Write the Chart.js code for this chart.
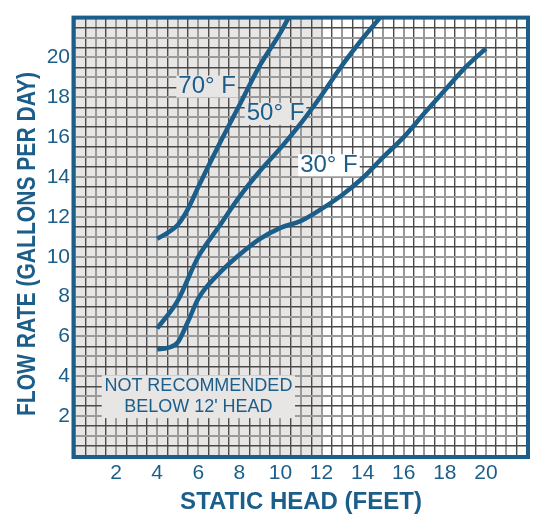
<!DOCTYPE html>
<html>
<head>
<meta charset="utf-8">
<title>Flow rate vs static head</title>
<script src="https://cdn.jsdelivr.net/npm/chart.js@4.4.0/dist/chart.umd.min.js"></script>
<style>
    html, body { margin: 0; padding: 0; background: #ffffff; }
    #wrap { width: 537px; height: 518px; }
</style>
</head>
<body>
<div id="wrap"><canvas id="chart" width="537" height="518"></canvas></div>
<script>
// Curve data (static head in feet, flow in gallons per day)
const head70 = [4, 4.5, 5, 5.5, 6, 7, 8, 9, 10, 10.4];
const flow70 = [10.9, 11.2, 11.6, 12.4, 13.5, 15.6, 17.6, 19.6, 21.25, 22];

const head50 = [4, 5, 6, 7, 8, 9, 10, 11, 12, 13, 14, 14.85];
const flow50 = [6.4, 7.8, 10.0, 11.5, 13.0, 14.3, 15.45, 16.7, 18.1, 19.6, 20.95, 22];

const head30 = [4, 4.5, 5, 5.5, 6, 7, 8, 9, 10, 11, 12, 13, 14, 15, 16, 17, 18, 19, 20];
const flow30 = [5.35, 5.42, 5.7, 6.75, 7.9, 9.15, 10.1, 10.9, 11.45, 11.8, 12.4, 13.1, 13.95, 15.0, 16.0, 17.2, 18.35, 19.5, 20.45];

const curveNames = ['70° F', '50° F', '30° F'];
const tickLabels = [2, 4, 6, 8, 10, 12, 14, 16, 18, 20];
const noteLines = ['NOT RECOMMENDED', "BELOW 12' HEAD"];
const yTitle = 'FLOW RATE (GALLONS PER DAY)';
const xTitle = 'STATIC HEAD (FEET)';

// Styling / placement (kept apart from the data)
const BLUE = '#1b5e8a';
const SHADE = '#e8e5e5';
const GRID_LIGHT = '#9a9a9a';
const GRID_DARK = '#4a4a4a';
const FONT = "'Liberation Sans', Arial, sans-serif";
const shadeRange = [0, 12];
const labelSpots = [[6.43, 18.54, SHADE], [9.76, 17.17, SHADE], [12.36, 14.59, '#ffffff']];
const noteBox = { x0: 1.3, x1: 10.71, y0: 1.9, y1: 4.05 };
const yTitleBox = { x: 28.5, y: 244, length: 344 };

const toPoints = (xs, ys) => xs.map((v, i) => ({ x: v, y: ys[i] }));

function gridColor(ctx) {
    return Number.isInteger(ctx.tick.value) ? GRID_LIGHT : GRID_DARK;
}
function gridWidth(ctx) {
    return Number.isInteger(ctx.tick.value) ? 2 : 1.4;
}
function tickText(value) {
    return tickLabels.includes(value) ? String(value) : '';
}

const notesPlugin = {
    id: 'notes',
    beforeDraw(chart) {
        const { ctx, chartArea, scales: { x } } = chart;
        const x0 = x.getPixelForValue(shadeRange[0]);
        const x1 = x.getPixelForValue(shadeRange[1]);
        ctx.save();
        ctx.fillStyle = SHADE;
        ctx.fillRect(x0, chartArea.top, x1 - x0, chartArea.bottom - chartArea.top);
        ctx.restore();
    },
    beforeDatasetsDraw(chart) {
        const { ctx, scales: { x, y } } = chart;
        ctx.save();

        // "not recommended" box
        const bx0 = x.getPixelForValue(noteBox.x0);
        const bx1 = x.getPixelForValue(noteBox.x1);
        const by0 = y.getPixelForValue(noteBox.y1);
        const by1 = y.getPixelForValue(noteBox.y0);
        ctx.fillStyle = SHADE;
        ctx.fillRect(bx0, by0, bx1 - bx0, by1 - by0);
        ctx.fillStyle = BLUE;
        ctx.font = '18px ' + FONT;
        ctx.textAlign = 'center';
        ctx.textBaseline = 'middle';
        const cx = (bx0 + bx1) / 2;
        const cy = (by0 + by1) / 2;
        ctx.fillText(noteLines[0], cx, cy - 10.5);
        ctx.fillText(noteLines[1], cx, cy + 10.5);

        // curve labels
        ctx.font = '24px ' + FONT;
        curveNames.forEach((name, i) => {
            const [lx, ly, bg] = labelSpots[i];
            const px = x.getPixelForValue(lx);
            const py = y.getPixelForValue(ly);
            const w = ctx.measureText(name).width + 4;
            ctx.fillStyle = bg;
            ctx.fillRect(px - w / 2, py - 11, w, 22);
            ctx.fillStyle = BLUE;
            ctx.fillText(name, px, py);
        });
        ctx.restore();
    },
    afterDraw(chart) {
        const { ctx, chartArea: a } = chart;
        ctx.save();
        ctx.strokeStyle = BLUE;
        ctx.lineWidth = 4;
        ctx.strokeRect(a.left - 1.5, a.top, a.right - a.left + 2.5, a.bottom - a.top + 1);

        // condensed bold y-axis title
        ctx.font = 'bold 25px ' + FONT;
        ctx.fillStyle = BLUE;
        ctx.textAlign = 'center';
        ctx.textBaseline = 'middle';
        const squeeze = yTitleBox.length / ctx.measureText(yTitle).width;
        ctx.translate(yTitleBox.x, yTitleBox.y);
        ctx.rotate(-Math.PI / 2);
        ctx.scale(squeeze, 1);
        ctx.fillText(yTitle, 0, 0);
        ctx.restore();
    }
};

const lineStyle = {
    borderColor: BLUE,
    borderWidth: 4.5,
    pointRadius: 0,
    fill: false,
    cubicInterpolationMode: 'monotone'
};

new Chart(document.getElementById('chart'), {
    type: 'line',
    data: {
        datasets: [
            Object.assign({ label: curveNames[0], data: toPoints(head70, flow70) }, lineStyle),
            Object.assign({ label: curveNames[1], data: toPoints(head50, flow50) }, lineStyle),
            Object.assign({ label: curveNames[2], data: toPoints(head30, flow30) }, lineStyle)
        ]
    },
    options: {
        responsive: false,
        animation: false,
        events: [],
        layout: { padding: { top: 5, right: 10, left: 0, bottom: 0 } },
        plugins: { legend: { display: false }, tooltip: { enabled: false } },
        scales: {
            x: {
                type: 'linear',
                min: 0,
                max: 22,
                afterFit(scale) { scale.height = 62; },
                ticks: {
                    stepSize: 0.5,
                    autoSkip: false,
                    maxRotation: 0,
                    padding: 5,
                    color: BLUE,
                    font: { family: FONT, size: 21 },
                    callback: tickText
                },
                grid: { color: gridColor, lineWidth: gridWidth, drawTicks: false },
                border: { display: false },
                title: {
                    display: true,
                    text: xTitle,
                    color: BLUE,
                    font: { family: FONT, size: 24, weight: 'bold' },
                    padding: { top: 0, bottom: 1 }
                }
            },
            y: {
                type: 'linear',
                min: 0,
                max: 22,
                afterFit(scale) { scale.width = 75; },
                ticks: {
                    stepSize: 0.5,
                    autoSkip: false,
                    padding: 5,
                    color: BLUE,
                    font: { family: FONT, size: 21 },
                    callback: tickText
                },
                grid: { color: gridColor, lineWidth: gridWidth, drawTicks: false },
                border: { display: false },
                title: { display: false }
            }
        }
    },
    plugins: [notesPlugin]
});
</script>
</body>
</html>
